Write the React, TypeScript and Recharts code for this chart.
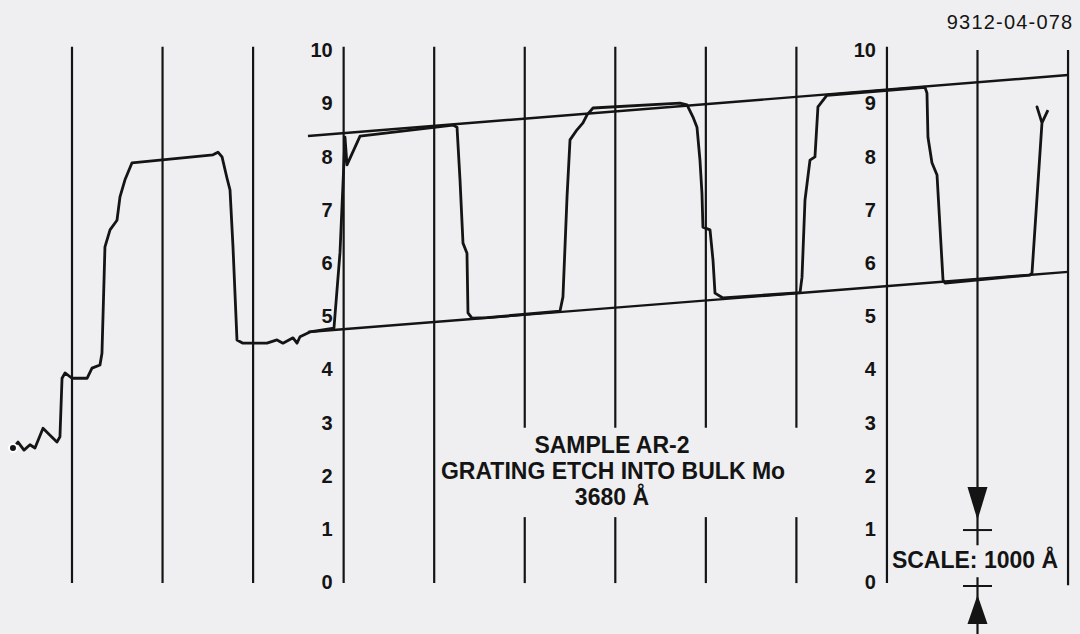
import React from 'react';
import { LineChart, Line, XAxis, YAxis, ReferenceLine, ReferenceDot } from 'recharts';

// Profilometer trace (x in chart-division units, y in tick units of 1000 Å)
const traceX = [
  -0.652, -0.596, -0.53, -0.464, -0.409, -0.32, -0.243, -0.166, -0.133, -0.11, -0.077, 0, 0.166, 0.221, 0.309,
  0.331, 0.364, 0.42, 0.497, 0.53, 0.585, 0.663, 1.557, 1.612, 1.657, 1.712, 1.745, 1.778, 1.822, 1.888, 2.153,
  2.264, 2.33, 2.441, 2.485, 2.518, 2.628, 2.893, 2.96, 3.015, 3.037, 3.181, 4.208, 4.252, 4.285, 4.318, 4.362,
  4.373, 4.417, 4.583, 5.389, 5.422, 5.467, 5.5, 5.577, 5.643, 5.688, 5.754, 6.714, 6.792, 6.858, 6.902, 6.935,
  6.957, 6.968, 7.046, 7.079, 7.101, 7.189, 8.04, 8.062, 8.095, 8.15, 8.205, 8.238, 8.338, 9.42, 9.442, 9.453,
  9.497, 9.553, 9.619, 9.641, 10.58, 10.602, 10.712, 10.657, 10.712, 10.778,
];
const traceY = [
  2.52, 2.63, 2.48, 2.58, 2.52, 2.89, 2.76, 2.63, 2.73, 3.83, 3.93, 3.83, 3.83, 4.02, 4.08,
  4.3, 6.3, 6.62, 6.8, 7.24, 7.56, 7.88, 8.03, 8.08, 7.99, 7.59, 7.37, 6.3, 4.55, 4.49, 4.49,
  4.55, 4.49, 4.59, 4.49, 4.61, 4.7, 4.77, 6.2, 8.36, 7.84, 8.38, 8.59, 8.55, 7.56, 6.37, 6.18,
  5.06, 4.96, 4.97, 5.09, 5.36, 7.24, 8.31, 8.5, 8.63, 8.78, 8.91, 9.0, 8.97, 8.74, 8.55, 7.93,
  7.31, 6.67, 6.62, 6.05, 5.43, 5.34, 5.44, 5.73, 7.18, 7.93, 7.99, 8.93, 9.15, 9.3, 9.19, 8.36,
  7.88, 7.65, 5.68, 5.62, 5.77, 5.81, 8.63, 8.93, 8.63, 8.87,
];
const trace = traceX.map((x, i) => ({ x, y: traceY[i] }));

// Drawn reference band (top and bottom envelope lines)
const upperBand = [{ x: 2.606, y: 8.383 }, { x: 11.0, y: 9.53 }];
const lowerBand = [{ x: 2.606, y: 4.7 }, { x: 11.0, y: 5.83 }];

// Vertical chart-paper lines and their drawn extents
const gridX = [0, 1, 2, 3, 4, 5, 6, 7, 8, 9, 10, 11];
const fullSpan = [[-0.02, 10.06]];
const splitSpan = [[-0.02, 1.22], [2.9, 10.06]];
const gridSpans = [
  fullSpan, fullSpan, fullSpan, fullSpan, fullSpan,
  splitSpan, splitSpan, splitSpan, splitSpan,
  fullSpan,
  [[0.69, 10.0], [-0.98, 0.09]],
  [[-0.06, 10.0]],
];

// Axis tick labels (two printed scales)
const yTicks = [0, 1, 2, 3, 4, 5, 6, 7, 8, 9, 10];
const tickAxes = [3, 9];

// Scale marker (1000 Å)
const scaleX = 10;
const scaleBars = [0.977, -0.075];
const scaleBarHalf = 0.16;
const arrowDownTip = 1.165;
const arrowUpTip = -0.244;

// Annotations
const annotations = [
  { x: 5.963, y: 2.575, text: 'SAMPLE AR-2', size: 23, weight: 700, spacing: 0 },
  { x: 5.975, y: 2.086, text: 'GRATING ETCH INTO BULK Mo', size: 23, weight: 700, spacing: 0 },
  { x: 5.963, y: 1.598, text: '3680 Å', size: 23, weight: 700, spacing: 0 },
  { x: 9.972, y: 0.414, text: 'SCALE: 1000 Å', size: 23, weight: 700, spacing: 0 },
  { x: 10.36, y: 10.526, text: '9312-04-078', size: 20, weight: 400, spacing: 1.2 },
];

const INK = '#141414';
const FONT = '"Liberation Sans", Arial, Helvetica, sans-serif';

const DownArrow = (p: any) => (
  <polygon points={`${p.cx},${p.cy} ${p.cx - 10},${p.cy - 33} ${p.cx + 10},${p.cy - 33}`} fill={INK} />
);
const UpArrow = (p: any) => (
  <polygon points={`${p.cx},${p.cy} ${p.cx - 10},${p.cy + 29} ${p.cx + 10},${p.cy + 29}`} fill={INK} />
);

export default function App() {
  return (
    <div style={{ position: 'absolute', left: 0, top: 0, width: 1080, height: 634, background: '#efeff1' }}>
      <LineChart width={1080} height={634} margin={{ top: 0, right: 0, bottom: 0, left: 0 }}>
        <XAxis type="number" dataKey="x" domain={[-0.7951, 11.132]} hide allowDataOverflow />
        <YAxis type="number" dataKey="y" domain={[-0.977, 10.94]} hide allowDataOverflow />

        {gridX.map((gx, i) =>
          gridSpans[i].map((s, j) => (
            <ReferenceLine
              key={`g${i}-${j}`}
              segment={[{ x: gx, y: s[0] }, { x: gx, y: s[1] }]}
              stroke={INK}
              strokeWidth={2.2}
              ifOverflow="visible"
            />
          ))
        )}

        {scaleBars.map((b, i) => (
          <ReferenceLine
            key={`sb${i}`}
            segment={[{ x: scaleX - scaleBarHalf, y: b }, { x: scaleX + scaleBarHalf, y: b }]}
            stroke={INK}
            strokeWidth={2}
            ifOverflow="visible"
          />
        ))}
        <ReferenceDot x={scaleX} y={arrowDownTip} r={1} shape={DownArrow} ifOverflow="visible" />
        <ReferenceDot x={scaleX} y={arrowUpTip} r={1} shape={UpArrow} ifOverflow="visible" />

        <Line data={upperBand} dataKey="y" type="linear" dot={false} stroke={INK} strokeWidth={2.4} isAnimationActive={false} />
        <Line data={lowerBand} dataKey="y" type="linear" dot={false} stroke={INK} strokeWidth={2.4} isAnimationActive={false} />
        <Line data={trace} dataKey="y" type="linear" dot={false} stroke={INK} strokeWidth={2.8} strokeLinejoin="round" isAnimationActive={false} />

        {tickAxes.map((ax) =>
          yTicks.map((t) => (
            <ReferenceDot
              key={`t${ax}-${t}`}
              x={ax}
              y={t}
              r={1}
              fill="none"
              stroke="none"
              ifOverflow="visible"
              label={{ value: String(t), position: 'left', offset: 10, fill: INK, fontSize: 20, fontWeight: 700, fontFamily: FONT }}
            />
          ))
        )}

        {annotations.map((a, i) => (
          <ReferenceDot
            key={`a${i}`}
            x={a.x}
            y={a.y}
            r={1}
            fill="none"
            stroke="none"
            ifOverflow="visible"
            label={{ value: a.text, position: 'center', fill: INK, fontSize: a.size, fontWeight: a.weight, fontFamily: FONT, letterSpacing: a.spacing }}
          />
        ))}
      </LineChart>
    </div>
  );
}
